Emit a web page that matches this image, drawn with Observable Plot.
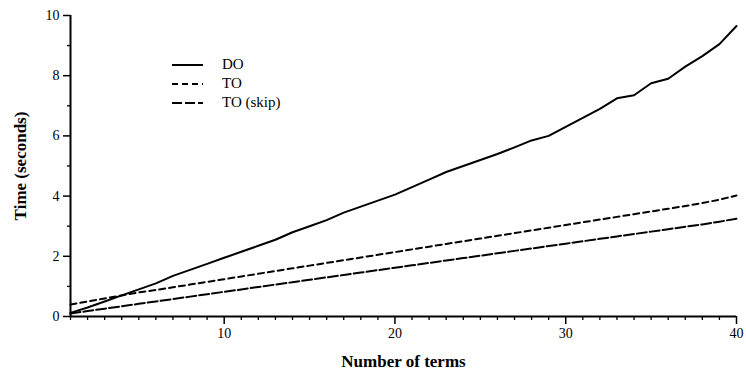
<!DOCTYPE html>
<html>
<head>
<meta charset="utf-8">
<script src="https://cdn.jsdelivr.net/npm/d3@7"></script>
<script src="https://cdn.jsdelivr.net/npm/@observablehq/plot@0.6"></script>
<style>
  html, body { margin: 0; padding: 0; background: #fff; }
  #wrap { position: relative; width: 746px; height: 373px; font-family: "Liberation Serif", "DejaVu Serif", serif; }
  #legend { position: absolute; left: 172px; top: 55px; font-size: 15px; color: #000; }
  #legend .row { display: flex; align-items: center; height: 19px; }
  #legend svg { margin-right: 19px; }
</style>
</head>
<body>
<div id="wrap"><div id="legend"></div></div>
<script>
const terms = d3.range(1, 41);
const doTimes = [0.12,0.3,0.5,0.7,0.9,1.1,1.35,1.55,1.75,1.95,2.15,2.35,2.55,2.8,3.0,3.2,3.45,3.65,3.85,4.05,4.3,4.55,4.8,5.0,5.2,5.4,5.62,5.85,6.0,6.3,6.6,6.9,7.25,7.35,7.75,7.9,8.3,8.65,9.05,9.65];
const toTimes = [0.4,0.5,0.6,0.7,0.8,0.88,0.97,1.06,1.15,1.24,1.33,1.42,1.51,1.6,1.69,1.78,1.87,1.96,2.05,2.14,2.23,2.32,2.41,2.5,2.59,2.68,2.77,2.86,2.95,3.04,3.13,3.22,3.31,3.4,3.49,3.58,3.67,3.77,3.88,4.02];
const skipTimes = [0.1,0.18,0.26,0.34,0.42,0.5,0.58,0.66,0.74,0.82,0.9,0.98,1.06,1.14,1.22,1.3,1.38,1.46,1.54,1.62,1.7,1.78,1.86,1.94,2.02,2.1,2.18,2.26,2.34,2.42,2.5,2.58,2.66,2.74,2.82,2.9,2.98,3.06,3.15,3.25];
const seriesNames = ["DO", "TO", "TO (skip)"];
const dashes = [null, "6,4", "10,3"];
const xMajor = [10, 20, 30, 40];
const yMajor = [0, 2, 4, 6, 8, 10];

const allSeries = [doTimes, toTimes, skipTimes];
const rows = allSeries.flatMap((vals, s) => terms.map((n, i) => ({n, t: vals[i], s: seriesNames[s]})));

const chart = Plot.plot({
  width: 746,
  height: 373,
  marginLeft: 70,
  marginRight: 10,
  marginTop: 15,
  marginBottom: 57,
  style: {fontFamily: '"Liberation Serif", "DejaVu Serif", serif', fontSize: "14px", color: "#000", background: "#fff"},
  x: {domain: [1, 40]},
  y: {domain: [0, 10]},
  marks: [
    Plot.axisX({ticks: terms.filter(d => d % 10 !== 0), tickSize: 4, text: null, label: null, strokeWidth: 1.3}),
    Plot.axisX({ticks: xMajor, tickSize: 8, tickPadding: 4, label: "Number of terms", labelAnchor: "center", labelArrow: "none", labelOffset: 50, fontSize: 14, strokeWidth: 1.5}),
    Plot.axisY({ticks: [1,3,5,7,9], tickSize: 3, text: null, label: null, strokeWidth: 1.3}),
    Plot.axisY({ticks: yMajor, tickSize: 7, tickPadding: 4, label: "Time (seconds)", labelAnchor: "center", labelArrow: "none", labelOffset: 57, fontSize: 14, strokeWidth: 1.5}),
    Plot.ruleX([1], {strokeWidth: 2}),
    Plot.ruleY([0], {strokeWidth: 2}),
    ...seriesNames.map((name, k) => Plot.line(rows.filter(d => d.s === name), {
      x: "n", y: "t", stroke: "#000", strokeWidth: 2, strokeDasharray: dashes[k]
    }))
  ]
});
chart.style.position = "absolute";
chart.style.left = "0";
chart.style.top = "0";
document.getElementById("wrap").prepend(chart);
d3.select(chart).selectAll("[aria-label='x-axis label'] text, [aria-label='y-axis label'] text").attr("font-weight", "bold").attr("font-size", 17);

const legend = d3.select("#legend");
seriesNames.forEach((name, k) => {
  const row = legend.append("div").attr("class", "row");
  const svg = row.append("svg").attr("width", 31).attr("height", 6);
  svg.append("line").attr("x1", 0).attr("x2", 31).attr("y1", 3).attr("y2", 3)
    .attr("stroke", "#000").attr("stroke-width", 2).attr("stroke-dasharray", dashes[k]);
  row.append("span").text(name);
});
</script>
</body>
</html>
